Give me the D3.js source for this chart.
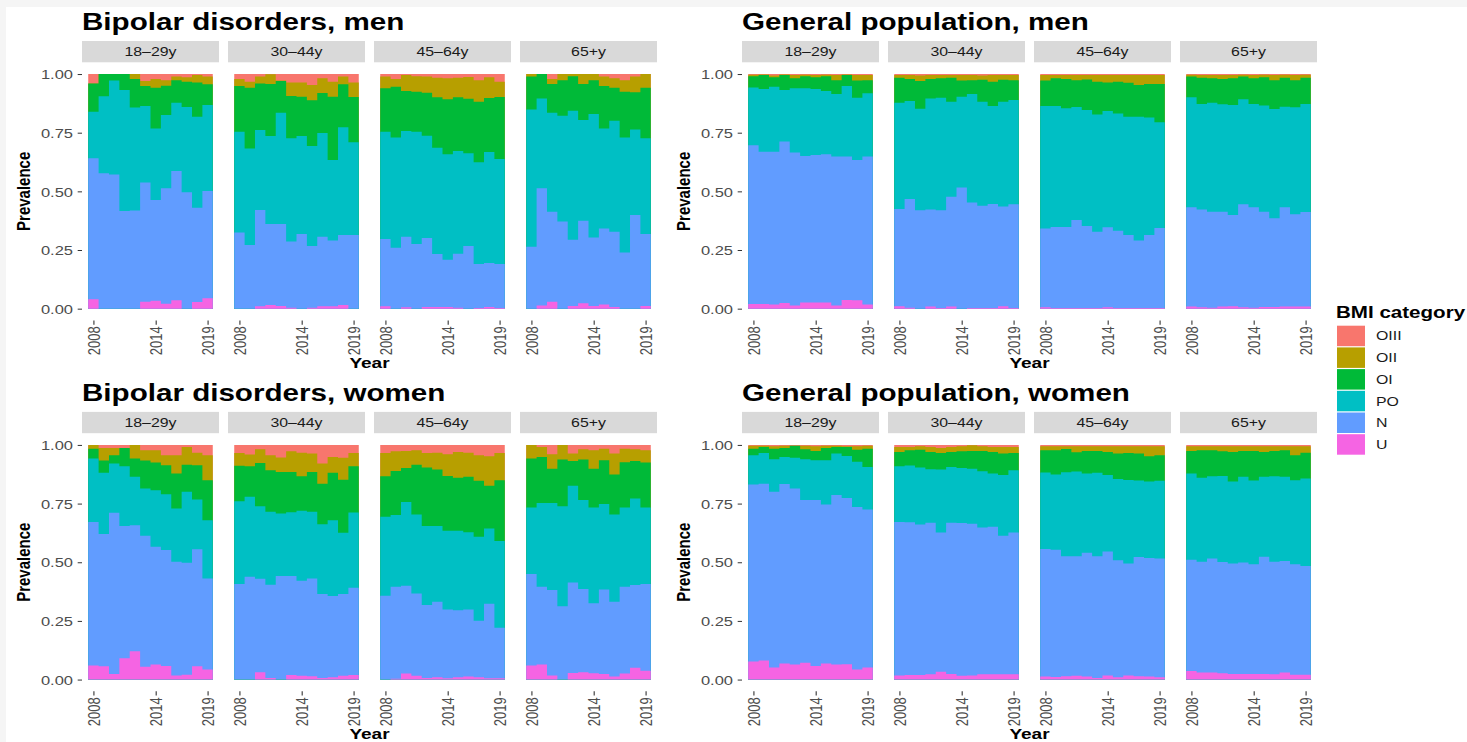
<!DOCTYPE html>
<html>
<head>
<meta charset="utf-8">
<script src="https://cdn.jsdelivr.net/npm/d3@7"></script>
<style>
  body { margin: 0; background: #f5f5f5; }
  svg { display: block; }
  text { font-family: "Liberation Sans", Arial, Helvetica, sans-serif; }
</style>
</head>
<body>
<svg id="chart" width="1467" height="742"></svg>
<script>
// ---- Data -------------------------------------------------------------
const years = [2008, 2009, 2010, 2011, 2012, 2013, 2014, 2015, 2016, 2017, 2018, 2019];
const ageGroups = ["18–29y", "30–44y", "45–64y", "65+y"];
const categories = ["OIII", "OII", "OI", "PO", "N", "U"];        // legend order, top to bottom
const categoryColours = ["#F8766D", "#B79F00", "#00BA38", "#00BFC4", "#619CFF", "#F564E3"];
const yTicks = [0, 0.25, 0.5, 0.75, 1];
const xTicks = [2008, 2014, 2019];

// Cumulative prevalence per year, counted from the bottom of the bar:
// U = share underweight, N = underweight + normal, PO = ... + pre-obese,
// OI = ... + obesity I, OII = ... + obesity II; obesity III fills the rest up to 1.
const bipolarMen18 = {
  U:   [0.040, 0, 0, 0, 0, 0.030, 0.034, 0.021, 0.036, 0, 0.028, 0.044],
  N:   [0.641, 0.577, 0.572, 0.416, 0.418, 0.538, 0.463, 0.513, 0.587, 0.496, 0.430, 0.501],
  PO:  [0.839, 0.905, 0.972, 0.932, 0.857, 0.864, 0.768, 0.825, 0.878, 0.859, 0.818, 0.868],
  OI:  [0.960, 1, 1, 1, 0.979, 0.949, 0.942, 0.950, 0.974, 0.967, 0.964, 0.956],
  OII: [0.960, 1, 1, 1, 1, 0.970, 0.979, 0.974, 0.989, 0.986, 0.996, 0.989]
};
const bipolarMen30 = {
  U:   [0, 0, 0.010, 0.016, 0.011, 0.004, 0, 0.004, 0.010, 0.010, 0.016, 0],
  N:   [0.325, 0.271, 0.420, 0.361, 0.361, 0.286, 0.318, 0.267, 0.307, 0.290, 0.314, 0.314],
  PO:  [0.754, 0.683, 0.761, 0.736, 0.835, 0.726, 0.736, 0.693, 0.749, 0.634, 0.773, 0.709],
  OI:  [0.949, 0.942, 0.960, 0.957, 0.970, 0.906, 0.903, 0.888, 0.919, 0.903, 0.956, 0.902],
  OII: [0.979, 0.967, 0.989, 0.999, 0.972, 0.964, 0.964, 0.953, 0.982, 0.967, 0.989, 0.964]
};
const bipolarMen45 = {
  U:   [0.010, 0, 0.006, 0, 0.007, 0.007, 0.007, 0.004, 0, 0.003, 0.007, 0.003],
  N:   [0.297, 0.260, 0.307, 0.276, 0.301, 0.233, 0.209, 0.234, 0.267, 0.190, 0.195, 0.190],
  PO:  [0.754, 0.729, 0.757, 0.754, 0.737, 0.686, 0.658, 0.672, 0.662, 0.624, 0.668, 0.638],
  OI:  [0.939, 0.946, 0.928, 0.925, 0.920, 0.901, 0.892, 0.901, 0.895, 0.882, 0.898, 0.902],
  OII: [0.989, 0.979, 0.996, 0.991, 0.989, 0.984, 0.982, 0.984, 0.987, 0.974, 0.986, 0.967]
};
const bipolarMen65 = {
  U:   [0, 0.014, 0.030, 0, 0.011, 0.023, 0.011, 0.018, 0.007, 0, 0, 0.011],
  N:   [0.264, 0.513, 0.413, 0.371, 0.294, 0.375, 0.303, 0.342, 0.328, 0.239, 0.399, 0.318],
  PO:  [0.849, 0.896, 0.835, 0.822, 0.844, 0.804, 0.830, 0.768, 0.801, 0.729, 0.764, 0.726],
  OI:  [0.989, 1, 0.957, 0.974, 0.991, 0.957, 0.974, 0.949, 0.942, 0.925, 0.922, 0.942],
  OII: [1, 1, 0.979, 1, 1, 1, 1, 0.989, 0.982, 0.974, 0.989, 1]
};
const generalMen18 = {
  U:   [0.020, 0.020, 0.018, 0.024, 0.014, 0.026, 0.026, 0.026, 0.014, 0.037, 0.036, 0.018],
  N:   [0.697, 0.669, 0.669, 0.712, 0.666, 0.651, 0.655, 0.658, 0.649, 0.648, 0.634, 0.648],
  PO:  [0.943, 0.936, 0.946, 0.932, 0.939, 0.939, 0.936, 0.928, 0.915, 0.949, 0.899, 0.918],
  OI:  [0.991, 0.996, 0.986, 0.996, 0.982, 0.991, 0.986, 0.991, 0.974, 0.996, 0.972, 0.974],
  OII: [0.997, 0.998, 0.994, 0.998, 0.996, 0.997, 0.996, 0.997, 0.996, 0.998, 0.996, 0.996]
};
const generalMen30 = {
  U:   [0.010, 0.004, 0, 0.009, 0.003, 0.009, 0, 0.003, 0.003, 0.003, 0.010, 0.003],
  N:   [0.425, 0.467, 0.419, 0.423, 0.419, 0.477, 0.516, 0.452, 0.439, 0.446, 0.435, 0.445],
  PO:  [0.878, 0.885, 0.852, 0.896, 0.899, 0.882, 0.903, 0.915, 0.882, 0.864, 0.882, 0.889],
  OI:  [0.984, 0.979, 0.970, 0.979, 0.982, 0.984, 0.972, 0.974, 0.976, 0.967, 0.976, 0.974],
  OII: [0.996, 0.996, 0.994, 0.996, 0.996, 0.996, 0.996, 0.996, 0.994, 0.996, 0.996, 0.996]
};
const generalMen45 = {
  U:   [0.006, 0.003, 0.003, 0.003, 0.003, 0.003, 0.006, 0.003, 0.003, 0.003, 0.003, 0.003],
  N:   [0.342, 0.348, 0.348, 0.378, 0.352, 0.328, 0.347, 0.332, 0.314, 0.290, 0.314, 0.344],
  PO:  [0.864, 0.864, 0.854, 0.859, 0.847, 0.828, 0.842, 0.832, 0.818, 0.818, 0.815, 0.794],
  OI:  [0.972, 0.982, 0.979, 0.974, 0.977, 0.967, 0.964, 0.967, 0.963, 0.953, 0.957, 0.957],
  OII: [0.996, 0.996, 0.996, 0.996, 0.996, 0.996, 0.996, 0.996, 0.996, 0.996, 0.996, 0.996]
};
const generalMen65 = {
  U:   [0.009, 0.006, 0.004, 0.009, 0.010, 0.006, 0.004, 0.007, 0.007, 0.009, 0.009, 0.009],
  N:   [0.432, 0.423, 0.413, 0.413, 0.399, 0.445, 0.432, 0.413, 0.385, 0.432, 0.402, 0.412],
  PO:  [0.901, 0.872, 0.878, 0.871, 0.868, 0.893, 0.872, 0.866, 0.851, 0.861, 0.858, 0.872],
  OI:  [0.989, 0.984, 0.982, 0.979, 0.982, 0.989, 0.982, 0.986, 0.974, 0.984, 0.974, 0.984],
  OII: [0.997, 0.996, 0.996, 0.996, 0.996, 0.997, 0.996, 0.997, 0.996, 0.997, 0.996, 0.997]
};
const bipolarWomen18 = {
  U:   [0.060, 0.057, 0.024, 0.091, 0.121, 0.055, 0.064, 0.058, 0.017, 0.021, 0.057, 0.043],
  N:   [0.672, 0.620, 0.711, 0.654, 0.658, 0.613, 0.566, 0.552, 0.502, 0.498, 0.555, 0.431],
  PO:  [0.942, 0.881, 0.921, 0.909, 0.864, 0.814, 0.807, 0.790, 0.729, 0.800, 0.767, 0.679],
  OI:  [0.984, 0.934, 0.956, 0.987, 0.942, 0.934, 0.925, 0.913, 0.878, 0.916, 0.913, 0.850],
  OII: [1, 0.987, 0.987, 0.987, 1, 0.977, 0.977, 0.956, 0.956, 0.991, 0.967, 0.956]
};
const bipolarWomen30 = {
  U:   [0, 0, 0.031, 0.007, 0, 0.020, 0.016, 0.014, 0.007, 0.010, 0.016, 0.020],
  N:   [0.407, 0.438, 0.430, 0.404, 0.441, 0.441, 0.421, 0.431, 0.365, 0.356, 0.365, 0.391],
  PO:  [0.760, 0.779, 0.739, 0.715, 0.708, 0.713, 0.719, 0.715, 0.662, 0.679, 0.626, 0.712],
  OI:  [0.911, 0.909, 0.923, 0.892, 0.885, 0.885, 0.867, 0.885, 0.835, 0.881, 0.852, 0.909],
  OII: [0.966, 0.959, 0.982, 0.956, 0.946, 0.973, 0.967, 0.963, 0.921, 0.949, 0.945, 0.966]
};
const bipolarWomen45 = {
  U:   [0, 0.003, 0.026, 0.016, 0.007, 0.010, 0.006, 0.010, 0.013, 0.010, 0.006, 0.006],
  N:   [0.357, 0.396, 0.400, 0.367, 0.318, 0.332, 0.299, 0.295, 0.299, 0.251, 0.323, 0.221],
  PO:  [0.694, 0.701, 0.757, 0.704, 0.654, 0.654, 0.634, 0.634, 0.628, 0.609, 0.644, 0.591],
  OI:  [0.867, 0.889, 0.902, 0.916, 0.904, 0.895, 0.868, 0.860, 0.864, 0.847, 0.826, 0.850],
  OII: [0.966, 0.973, 0.974, 0.977, 0.966, 0.967, 0.960, 0.970, 0.967, 0.956, 0.952, 0.966]
};
const bipolarWomen65 = {
  U:   [0.060, 0.064, 0.017, 0, 0.028, 0.031, 0.027, 0.024, 0.013, 0.026, 0.050, 0.038],
  N:   [0.450, 0.396, 0.382, 0.313, 0.414, 0.386, 0.325, 0.384, 0.332, 0.396, 0.403, 0.407],
  PO:  [0.733, 0.753, 0.753, 0.739, 0.826, 0.765, 0.733, 0.748, 0.704, 0.733, 0.772, 0.733],
  OI:  [0.942, 0.949, 0.899, 0.938, 0.932, 0.938, 0.899, 0.935, 0.874, 0.926, 0.932, 0.925],
  OII: [1, 0.991, 0.960, 1, 0.963, 0.982, 0.977, 0.984, 0.963, 0.984, 0.982, 0.977]
};
const generalWomen18 = {
  U:   [0.077, 0.081, 0.051, 0.068, 0.064, 0.072, 0.058, 0.068, 0.064, 0.065, 0.043, 0.051],
  N:   [0.831, 0.835, 0.800, 0.833, 0.814, 0.765, 0.765, 0.746, 0.787, 0.774, 0.736, 0.725],
  PO:  [0.956, 0.966, 0.939, 0.949, 0.945, 0.939, 0.935, 0.935, 0.963, 0.953, 0.928, 0.906],
  OI:  [0.984, 0.991, 0.984, 0.987, 0.996, 0.982, 0.974, 0.987, 0.991, 0.991, 0.980, 0.984],
  OII: [0.996, 0.997, 0.994, 0.996, 0.997, 0.996, 0.994, 0.996, 0.996, 0.994, 0.994, 0.996]
};
const generalWomen30 = {
  U:   [0.017, 0.020, 0.020, 0.023, 0.033, 0.024, 0.016, 0.017, 0.023, 0.023, 0.023, 0.023],
  N:   [0.672, 0.670, 0.661, 0.668, 0.627, 0.668, 0.667, 0.664, 0.648, 0.651, 0.613, 0.627],
  PO:  [0.909, 0.912, 0.904, 0.896, 0.895, 0.906, 0.902, 0.899, 0.888, 0.878, 0.872, 0.892],
  OI:  [0.970, 0.977, 0.980, 0.970, 0.966, 0.970, 0.973, 0.974, 0.974, 0.970, 0.963, 0.966],
  OII: [0.991, 0.991, 0.994, 0.991, 0.987, 0.991, 0.994, 0.999, 0.994, 0.991, 0.991, 0.991]
};
const generalWomen45 = {
  U:   [0.013, 0.011, 0.014, 0.016, 0.013, 0.007, 0.017, 0.010, 0.017, 0.014, 0.013, 0.010],
  N:   [0.557, 0.553, 0.526, 0.526, 0.540, 0.526, 0.546, 0.508, 0.495, 0.522, 0.518, 0.516],
  PO:  [0.882, 0.874, 0.884, 0.887, 0.878, 0.881, 0.872, 0.855, 0.851, 0.848, 0.844, 0.847],
  OI:  [0.977, 0.977, 0.983, 0.969, 0.974, 0.974, 0.970, 0.963, 0.966, 0.963, 0.952, 0.956],
  OII: [0.994, 0.994, 0.994, 0.994, 0.994, 0.994, 0.994, 0.994, 0.994, 0.994, 0.994, 0.994]
};
const generalWomen65 = {
  U:   [0.037, 0.030, 0.030, 0.027, 0.024, 0.024, 0.024, 0.024, 0.023, 0.030, 0.021, 0.021],
  N:   [0.511, 0.502, 0.516, 0.501, 0.495, 0.499, 0.491, 0.523, 0.502, 0.505, 0.491, 0.484],
  PO:  [0.878, 0.860, 0.867, 0.868, 0.844, 0.864, 0.848, 0.864, 0.867, 0.864, 0.850, 0.857],
  OI:  [0.974, 0.977, 0.977, 0.973, 0.970, 0.974, 0.974, 0.970, 0.974, 0.977, 0.956, 0.967],
  OII: [0.994, 0.994, 0.994, 0.994, 0.994, 0.994, 0.994, 0.994, 0.994, 0.994, 0.994, 0.994]
};

const facetGroups = [
  { title: "Bipolar disorders, men",    col: 0, row: 0, panels: [bipolarMen18, bipolarMen30, bipolarMen45, bipolarMen65] },
  { title: "General population, men",   col: 1, row: 0, panels: [generalMen18, generalMen30, generalMen45, generalMen65] },
  { title: "Bipolar disorders, women",  col: 0, row: 1, panels: [bipolarWomen18, bipolarWomen30, bipolarWomen45, bipolarWomen65] },
  { title: "General population, women", col: 1, row: 1, panels: [generalWomen18, generalWomen30, generalWomen45, generalWomen65] }
];

// ---- Layout -----------------------------------------------------------
const STRETCH = 1.27;                 // horizontal widening applied to all text
const colLeft = [82, 742];
const rowTop = [62.3, 433.2];
const panelW = 137, panelH = 258.1, panelStep = 146, stripH = 21.3;
const axisTextColour = "#4d4d4d";

const svg = d3.select("#chart");
svg.append("rect").attr("x", 6).attr("y", 7).attr("width", 1461).attr("height", 735).attr("fill", "#ffffff");

const x = d3.scaleLinear().domain([2006.9, 2020.1]).range([0, panelW]);
const y = d3.scaleLinear().domain([-0.05, 1.05]).range([panelH, 0]);
const colour = d3.scaleOrdinal().domain(categories).range(categoryColours);

// Stack edges, bottom to top; each area runs from 0 up to the upper edge of its category
const upperEdge = {
  OIII: () => years.map(() => 1),
  OII: d => d.OII, OI: d => d.OI, PO: d => d.PO, N: d => d.N, U: d => d.U
};
const area = d3.area()
  .x(p => x(p.year))
  .y0(() => y(0))
  .y1(p => y(p.value));

function stretchedText(parent, px, py, str, rotate) {
  return parent.append("text")
    .attr("transform", `translate(${px},${py}) scale(${STRETCH},1)` + (rotate ? " rotate(-90)" : ""))
    .text(str);
}

facetGroups.forEach(group => {
  const left = colLeft[group.col];
  const top = rowTop[group.row];

  // group title
  stretchedText(svg, left, top - stripH - 11, group.title, false)
    .attr("font-size", 23.3).attr("font-weight", "bold").attr("fill", "#000");

  group.panels.forEach((data, pi) => {
    const g = svg.append("g").attr("transform", `translate(${left + pi * panelStep},${top})`);

    // strip
    g.append("rect").attr("x", 0).attr("y", -stripH).attr("width", panelW).attr("height", stripH)
      .attr("fill", "#d9d9d9");
    stretchedText(g, panelW / 2, -stripH / 2, ageGroups[pi], false)
      .attr("text-anchor", "middle").attr("dy", "0.36em")
      .attr("font-size", 12.5).attr("fill", "#1a1a1a");

    // stacked bars, drawn top category first so lower categories overlay it
    categories.forEach(cat => {
      const edge = upperEdge[cat](data);
      const pts = years.flatMap((yr, i) => [
        { year: yr - 0.5, value: edge[i] },
        { year: yr + 0.5, value: edge[i] }
      ]);
      g.append("path").attr("d", area(pts)).attr("fill", colour(cat));
    });

    // x axis
    const xAxis = g.append("g").attr("transform", `translate(0,${panelH})`)
      .call(d3.axisBottom(x).tickValues(xTicks).tickFormat(d3.format("d")).tickSize(4.3));
    xAxis.select(".domain").remove();
    xAxis.selectAll(".tick line").attr("stroke", "#333").attr("stroke-width", 1.1);
    xAxis.selectAll(".tick text")
      .attr("x", -6).attr("y", 0).attr("dy", "0.36em")
      .attr("text-anchor", "end")
      .attr("transform", `scale(${STRETCH},1) rotate(-90)`)
      .attr("font-size", 13).attr("fill", axisTextColour)
      .style("font-family", '"Liberation Sans", Arial, sans-serif');

    // y axis on the first panel of each group
    if (pi === 0) {
      const yAxis = g.append("g")
        .call(d3.axisLeft(y).tickValues(yTicks).tickFormat(d3.format(".2f")).tickSize(4.3));
      yAxis.select(".domain").remove();
      yAxis.selectAll(".tick line").attr("stroke", "#333").attr("stroke-width", 1);
      yAxis.selectAll(".tick text")
        .attr("x", -9 / STRETCH).attr("dy", "0.36em")
        .attr("transform", `scale(${STRETCH},1)`)
        .attr("font-size", 13).attr("fill", axisTextColour)
        .style("font-family", '"Liberation Sans", Arial, sans-serif');
    }
  });

  // axis titles
  const groupWidth = 3 * panelStep + panelW;
  stretchedText(svg, left + groupWidth / 2, top + panelH + 47.5, "Year", false)
    .attr("text-anchor", "middle").attr("font-size", 15).attr("font-weight", "bold").attr("fill", "#000");
  stretchedText(svg, left - 52.5, top + panelH / 2, "Prevalence", true)
    .attr("text-anchor", "middle").attr("font-size", 15).attr("font-weight", "bold").attr("fill", "#000");
});

// ---- Legend -----------------------------------------------------------
const legend = svg.append("g").attr("transform", "translate(1337,0)");
stretchedText(legend, -1, 317.5, "BMI category", false)
  .attr("font-size", 16.2).attr("font-weight", "bold").attr("fill", "#000");
categories.forEach((cat, i) => {
  const ky = 325.7 + i * 21.7;
  legend.append("rect").attr("x", 0).attr("y", ky).attr("width", 28).attr("height", 20.5)
    .attr("fill", colour(cat));
  stretchedText(legend, 39, ky + 10.25, cat, false)
    .attr("dy", "0.36em").attr("font-size", 12.5).attr("fill", "#1a1a1a");
});
</script>
</body>
</html>
